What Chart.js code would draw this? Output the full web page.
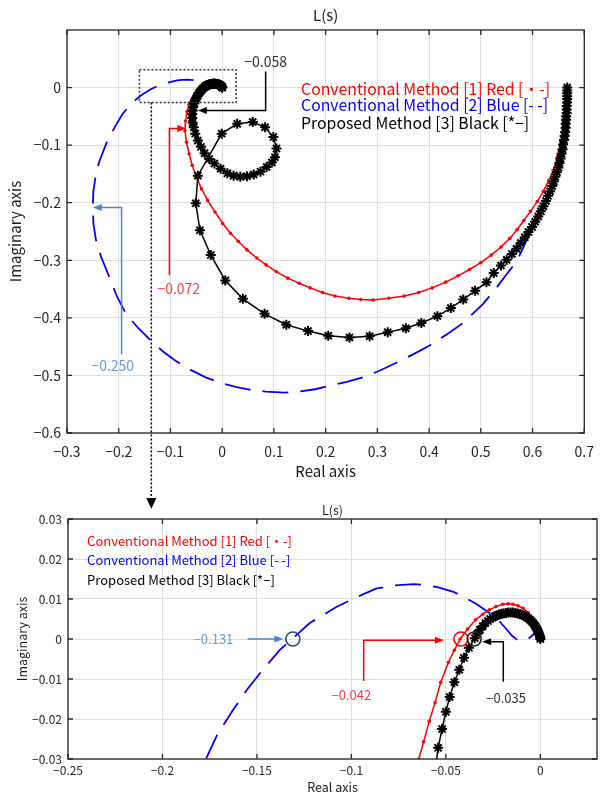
<!DOCTYPE html>
<html lang="ja">
<head>
<meta charset="UTF-8">
<title>L(s)</title>
<script src="https://cdn.jsdelivr.net/npm/chart.js"></script>
<style>
  body { margin: 0; background: #fff; }
  .box1 { position: absolute; left: 0; top: 0; width: 604px; height: 490px; }
  .box2 { position: absolute; left: 0; top: 490px; width: 604px; height: 306px; }
</style>
</head>
<body>
<div class="box1"><canvas id="c1"></canvas></div>
<div class="box2"><canvas id="c2"></canvas></div>
<script>
// axis ticks
const topXTicks = [-0.3, -0.2, -0.1, 0, 0.1, 0.2, 0.3, 0.4, 0.5, 0.6, 0.7];
const topYTicks = [-0.6, -0.5, -0.4, -0.3, -0.2, -0.1, 0];
const botXTicks = [-0.25, -0.2, -0.15, -0.1, -0.05, 0];
const botYTicks = [-0.03, -0.02, -0.01, 0, 0.01, 0.02, 0.03];

const legendNames = ['Conventional Method [1] Red [・-]', 'Conventional Method [2] Blue [- -]', 'Proposed Method [3] Black [*−]'];
const legendColors = ['#ff0000', '#0000ff', '#000000'];

// [1] red  (real, imag)
const redPts = [[0.667,0.000],[0.666,-0.025],[0.664,-0.050],[0.660,-0.075],[0.655,-0.098],[0.648,-0.121],[0.640,-0.144],
  [0.631,-0.162],[0.621,-0.180],[0.609,-0.198],[0.596,-0.215],[0.583,-0.231],[0.570,-0.247],[0.556,-0.262],[0.539,-0.277],
  [0.520,-0.291],[0.500,-0.304],[0.478,-0.316],[0.456,-0.327],[0.432,-0.338],[0.406,-0.348],[0.380,-0.356],[0.352,-0.362],
  [0.322,-0.366],[0.292,-0.369],[0.268,-0.368],[0.245,-0.366],[0.218,-0.362],[0.194,-0.356],[0.170,-0.348],[0.149,-0.340],
  [0.127,-0.331],[0.105,-0.320],[0.085,-0.308],[0.067,-0.296],[0.048,-0.282],[0.031,-0.267],[0.016,-0.253],[0.001,-0.236],
  [-0.014,-0.216],[-0.028,-0.196],[-0.040,-0.176],[-0.050,-0.155],[-0.058,-0.135],[-0.064,-0.115],[-0.069,-0.095],
  [-0.072,-0.075],[-0.071,-0.058],[-0.068,-0.042],[-0.0643,-0.030],[-0.0618,-0.0257],[-0.0588,-0.0206],[-0.0557,-0.0159],
  [-0.0527,-0.0108],[-0.0486,-0.0058],[-0.0455,-0.0028],[-0.0424,0.0000],[-0.0385,0.0025],[-0.0342,0.0048],[-0.0305,0.0062],
  [-0.027,0.0073],[-0.0235,0.0081],[-0.0199,0.0087],[-0.0170,0.0088],[-0.0145,0.0087],[-0.0118,0.0083],[-0.0091,0.0077],
  [-0.0065,0.0066],[-0.0042,0.0052],[-0.0022,0.0035],[-0.0008,0.0018],[0.000,0.000]];

// [2] blue
const bluePts = [[0.667,0.000],[0.666,-0.040],[0.662,-0.080],[0.655,-0.120],[0.643,-0.160],[0.627,-0.197],[0.608,-0.230],
  [0.588,-0.266],[0.570,-0.301],[0.545,-0.330],[0.525,-0.354],[0.504,-0.376],[0.464,-0.410],[0.432,-0.430],[0.401,-0.448],
  [0.370,-0.463],[0.339,-0.477],[0.306,-0.491],[0.274,-0.503],[0.241,-0.511],[0.208,-0.518],[0.180,-0.524],[0.150,-0.528],
  [0.120,-0.530],[0.084,-0.528],[0.055,-0.525],[0.026,-0.520],[-0.003,-0.513],[-0.033,-0.503],[-0.062,-0.490],[-0.091,-0.474],
  [-0.115,-0.458],[-0.135,-0.442],[-0.162,-0.418],[-0.186,-0.393],[-0.204,-0.362],[-0.221,-0.323],[-0.234,-0.294],
  [-0.244,-0.265],[-0.249,-0.236],[-0.250,-0.207],[-0.249,-0.180],[-0.244,-0.150],[-0.237,-0.127],[-0.224,-0.097],
  [-0.206,-0.066],[-0.192,-0.045],[-0.177,-0.030],[-0.171,-0.0239],[-0.163,-0.018],[-0.155,-0.0125],[-0.1465,-0.0075],
  [-0.138,-0.0028],[-0.131,0.0002],[-0.122,0.004],[-0.108,0.008],[-0.097,0.0105],[-0.087,0.0126],[-0.077,0.0134],
  [-0.067,0.0137],[-0.061,0.0135],[-0.055,0.013],[-0.046,0.0118],[-0.040,0.0104],[-0.034,0.0088],[-0.027,0.0065],
  [-0.022,0.0046],[-0.018,0.0025],[-0.015,0.0008],[-0.012,-0.0003],[-0.009,-0.0005],[-0.006,0.0002],[-0.004,0.0010],
  [-0.002,0.0018],[0.000,0.000]];

// [3] black
const blackPts = [[0.667,0.000],[0.667,-0.005],[0.667,-0.010],[0.667,-0.015],[0.667,-0.020],[0.667,-0.026],[0.666,-0.032],
  [0.666,-0.038],[0.666,-0.044],[0.665,-0.050],[0.665,-0.056],[0.664,-0.063],[0.664,-0.070],[0.663,-0.077],[0.662,-0.084],
  [0.661,-0.091],[0.659,-0.099],[0.658,-0.107],[0.656,-0.115],[0.654,-0.123],[0.652,-0.131],[0.650,-0.139],[0.647,-0.147],
  [0.644,-0.155],[0.641,-0.163],[0.638,-0.171],[0.634,-0.180],[0.630,-0.188],[0.626,-0.197],[0.621,-0.206],[0.616,-0.215],
  [0.611,-0.224],[0.605,-0.233],[0.599,-0.242],[0.592,-0.251],[0.585,-0.260],[0.577,-0.270],[0.569,-0.280],[0.560,-0.289],
  [0.550,-0.299],[0.539,-0.309],[0.525,-0.322],[0.511,-0.338],[0.489,-0.353],[0.466,-0.368],[0.442,-0.383],[0.416,-0.397],
  [0.385,-0.409],[0.355,-0.418],[0.320,-0.425],[0.285,-0.432],[0.246,-0.434],[0.205,-0.431],[0.166,-0.423],[0.124,-0.412],
  [0.082,-0.393],[0.040,-0.367],[0.006,-0.335],[-0.022,-0.291],[-0.043,-0.248],[-0.051,-0.201],[-0.047,-0.153],
  [-0.001,-0.080],[0.029,-0.063],[0.059,-0.060],[0.083,-0.069],[0.099,-0.086],[0.105,-0.106],[0.102,-0.121],[0.096,-0.130],
  [0.086,-0.138],[0.074,-0.146],[0.061,-0.151],[0.048,-0.154],[0.035,-0.155],[0.022,-0.153],[0.010,-0.149],[-0.003,-0.141],
  [-0.015,-0.132],[-0.025,-0.124],[-0.034,-0.114],[-0.041,-0.103],[-0.047,-0.092],[-0.052,-0.080],[-0.055,-0.069],
  [-0.057,-0.061],[-0.058,-0.053],[-0.058,-0.046],[-0.057,-0.040],[-0.056,-0.034],[-0.0541,-0.0272],[-0.052,-0.0225],
  [-0.050,-0.0182],[-0.048,-0.0145],[-0.0455,-0.0108],[-0.0429,-0.0077],[-0.0404,-0.0047],[-0.0378,-0.0022],
  [-0.0347,0.0002],[-0.0333,0.0013],[-0.032,0.0023],[-0.0305,0.0032],[-0.029,0.0040],[-0.0277,0.0045],[-0.0265,0.0050],
  [-0.0252,0.0054],[-0.024,0.0057],[-0.0229,0.0059],[-0.0218,0.0061],[-0.0206,0.0063],[-0.0195,0.0064],[-0.0182,0.0065],
  [-0.017,0.0066],[-0.0157,0.0066],[-0.0145,0.0066],[-0.0132,0.0065],[-0.012,0.0064],[-0.0107,0.0062],[-0.0095,0.0060],
  [-0.0084,0.0058],[-0.0074,0.0055],[-0.0064,0.0052],[-0.0055,0.0048],[-0.0046,0.0044],[-0.0038,0.0040],[-0.0031,0.0035],
  [-0.0025,0.0031],[-0.0019,0.0026],[-0.0015,0.0022],[-0.0010,0.0017],[-0.0006,0.0012],[-0.0002,0.0007],[0.000,0.0004],
  [0.000,0.000]];

const FONT = "'Noto Sans CJK JP', 'Noto Sans', sans-serif";
const xy = pts => pts.map(([x, y]) => ({ x: x, y: y }));
const fmt = v => (v === 0 ? '0' : (v < 0 ? '−' : '') + String(Math.abs(v)));
let topChart = null;

function makeDatasets(r) {
  return [
    { label: legendNames[2], data: xy(blackPts), showLine: true, borderColor: '#000', borderWidth: 1.5,
      pointStyle: 'star', pointRadius: r, pointBorderColor: '#000', pointBorderWidth: 2, order: 0, clip: 0 },
    { label: legendNames[0], data: xy(redPts), showLine: true, borderColor: '#ff0000', borderWidth: 1.5,
      pointStyle: 'circle', pointRadius: 1.8, pointBackgroundColor: '#ff0000', pointBorderWidth: 0, order: 1, clip: 0 },
    { label: legendNames[1], data: xy(bluePts), showLine: true, borderColor: '#0000ff', borderWidth: 1.8,
      borderDash: [26, 12], pointRadius: 0, order: 2, clip: 0 }
  ];
}

function text(ctx, s, x, y, size, color, align, rot) {
  ctx.save();
  ctx.font = size + 'px ' + FONT;
  ctx.fillStyle = color;
  ctx.textAlign = align || 'center';
  ctx.textBaseline = 'middle';
  ctx.translate(x, y);
  if (rot) ctx.rotate(rot);
  ctx.fillText(s, 0, 0);
  ctx.restore();
}

function head(ctx, x, y, ang, color, len, w) {
  ctx.save();
  ctx.fillStyle = color;
  ctx.translate(x, y);
  ctx.rotate(ang);
  ctx.beginPath();
  ctx.moveTo(0, 0);
  ctx.lineTo(-len, -w);
  ctx.lineTo(-len, w);
  ctx.closePath();
  ctx.fill();
  ctx.restore();
}

// vertical line at vx from yEnd to yArr, then horizontal to the tip tx with an arrow
function bracket(chart, vx, yEnd, yArr, tx, color) {
  const { ctx, scales: { x, y } } = chart;
  const px = x.getPixelForValue(vx), pt = x.getPixelForValue(tx);
  const py0 = y.getPixelForValue(yEnd), py1 = y.getPixelForValue(yArr);
  ctx.save();
  ctx.strokeStyle = color;
  ctx.lineWidth = 1.5;
  ctx.beginPath();
  ctx.moveTo(px, py0);
  ctx.lineTo(px, py1);
  ctx.lineTo(pt + (pt < px ? 7 : -7), py1);
  ctx.stroke();
  ctx.restore();
  head(ctx, pt, py1, pt < px ? Math.PI : 0, color, 9, 3.5);
}

function frame(chart, xt, yt) {
  const { ctx, chartArea: a, scales: { x, y } } = chart;
  ctx.save();
  ctx.strokeStyle = '#262626';
  ctx.lineWidth = 1.3;
  ctx.beginPath();
  xt.forEach(v => {
    const p = x.getPixelForValue(v);
    ctx.moveTo(p, a.bottom); ctx.lineTo(p, a.bottom - 5);
    ctx.moveTo(p, a.top); ctx.lineTo(p, a.top + 5);
  });
  yt.forEach(v => {
    const p = y.getPixelForValue(v);
    ctx.moveTo(a.left, p); ctx.lineTo(a.left + 5, p);
    ctx.moveTo(a.right, p); ctx.lineTo(a.right - 5, p);
  });
  ctx.stroke();
  ctx.strokeRect(a.left, a.top, a.right - a.left, a.bottom - a.top);
  ctx.restore();
}

const topDecor = {
  id: 'topDecor',
  afterDatasetsDraw(chart) {
    const { ctx, chartArea: a, scales: { x, y } } = chart;
    frame(chart, topXTicks, topYTicks);
    const cx = (a.left + a.right) / 2;
    text(ctx, 'L(s)', cx, 15, 15, '#1a1a1a');
    text(ctx, 'Real axis', cx, 471, 15, '#1a1a1a');
    text(ctx, 'Imaginary axis', 15, (a.top + a.bottom) / 2, 15, '#1a1a1a', 'center', -Math.PI / 2);

    // legend text
    const ly = [-0.002, -0.031, -0.061];
    legendNames.forEach((s, i) => text(ctx, s, x.getPixelForValue(0.1525), y.getPixelForValue(ly[i]), 15.8, legendColors[i], 'left'));

    // zoom box and connector
    ctx.save();
    ctx.strokeStyle = '#1e3550';
    ctx.lineWidth = 1.5;
    ctx.setLineDash([2, 2]);
    const rx0 = x.getPixelForValue(-0.16), rx1 = x.getPixelForValue(0.027);
    const ry0 = y.getPixelForValue(0.031), ry1 = y.getPixelForValue(-0.026);
    ctx.strokeRect(rx0, ry0, rx1 - rx0, ry1 - ry0);
    ctx.strokeStyle = '#000';
    ctx.beginPath();
    const lx = x.getPixelForValue(-0.137);
    ctx.moveTo(lx, ry1);
    ctx.lineTo(lx, chart.height);
    ctx.stroke();
    ctx.restore();

    // -0.058
    bracket(chart, 0.084, 0.028, -0.040, -0.047, '#000');
    text(ctx, '−0.058', x.getPixelForValue(0.084), y.getPixelForValue(0.045), 14, '#333');
    // -0.072
    bracket(chart, -0.102, -0.326, -0.071, -0.0694, '#ff0000');
    text(ctx, '−0.072', x.getPixelForValue(-0.084), y.getPixelForValue(-0.350), 14, '#ff4040');
    // -0.250
    bracket(chart, -0.1945, -0.463, -0.2085, -0.250, '#4a86c8');
    text(ctx, '−0.250', x.getPixelForValue(-0.2116), y.getPixelForValue(-0.4835), 14, '#6b9bd1');
  }
};

function circ(chart, vx, vy, color) {
  const { ctx, scales: { x, y } } = chart;
  ctx.save();
  ctx.strokeStyle = color;
  ctx.lineWidth = 1.6;
  ctx.beginPath();
  ctx.arc(x.getPixelForValue(vx), y.getPixelForValue(vy), 7, 0, Math.PI * 2);
  ctx.stroke();
  ctx.restore();
}

const botDecor = {
  id: 'botDecor',
  afterDatasetsDraw(chart) {
    const { ctx, chartArea: a, scales: { x, y } } = chart;
    frame(chart, botXTicks, botYTicks);
    const cx = (a.left + a.right) / 2;
    text(ctx, 'L(s)', cx, 20, 12.5, '#1a1a1a');
    text(ctx, 'Real axis', cx, 297, 12.5, '#1a1a1a');
    text(ctx, 'Imaginary axis', 22, (a.top + a.bottom) / 2, 12.5, '#1a1a1a', 'center', -Math.PI / 2);

    const ly = [0.0245, 0.0198, 0.0148];
    legendNames.forEach((s, i) => text(ctx, s, x.getPixelForValue(-0.2399), y.getPixelForValue(ly[i]), 13, legendColors[i], 'left'));

    // connector arrow from the top chart
    const lx = topChart ? topChart.scales.x.getPixelForValue(-0.137) : 154;
    ctx.save();
    ctx.strokeStyle = '#000';
    ctx.lineWidth = 1.5;
    ctx.setLineDash([2, 2]);
    ctx.beginPath();
    ctx.moveTo(lx, 0);
    ctx.lineTo(lx, 10);
    ctx.stroke();
    ctx.restore();
    head(ctx, lx, 19, Math.PI / 2, '#000', 11, 5);

    // circles
    circ(chart, -0.131, 0, '#1f4e79');
    circ(chart, -0.042, 0, '#ff0000');
    circ(chart, -0.035, 0, '#222');

    // -0.131
    const py = y.getPixelForValue(0);
    ctx.save();
    ctx.strokeStyle = '#4a86c8';
    ctx.lineWidth = 1.5;
    ctx.beginPath();
    ctx.moveTo(x.getPixelForValue(-0.155), py);
    ctx.lineTo(x.getPixelForValue(-0.136) - 7, py);
    ctx.stroke();
    ctx.restore();
    head(ctx, x.getPixelForValue(-0.136), py, 0, '#4a86c8', 9, 3.5);
    text(ctx, '−0.131', x.getPixelForValue(-0.173), py, 13, '#6b9bd1');
    // -0.042
    bracket(chart, -0.0935, -0.0105, -0.0003, -0.051, '#ff0000');
    text(ctx, '−0.042', x.getPixelForValue(-0.1000), y.getPixelForValue(-0.0140), 13, '#ff4040');
    // -0.035
    bracket(chart, -0.0196, -0.0107, -0.0007, -0.0308, '#000');
    text(ctx, '−0.035', x.getPixelForValue(-0.0181), y.getPixelForValue(-0.0148), 13, '#333');
  }
};

function axis(min, max, ticks, fontSize, pad, fit) {
  return {
    type: 'linear', min: min, max: max,
    afterBuildTicks: s => { s.ticks = ticks.map(v => ({ value: v })); },
    afterFit: fit,
    grid: { color: '#dedede', lineWidth: 1, drawTicks: false },
    border: { display: false },
    ticks: { font: { family: FONT, size: fontSize }, color: '#262626', padding: pad, callback: v => fmt(v) }
  };
}

function baseOptions(pad) {
  return {
    responsive: true, maintainAspectRatio: false, animation: false,
    layout: { padding: pad },
    plugins: { legend: { display: false }, tooltip: { enabled: false } }
  };
}

window.onload = function () {
  const o1 = baseOptions({ top: 30, right: 11, left: 0, bottom: 0 });
  o1.scales = {
    x: axis(-0.3, 0.7, topXTicks, 14, 10, s => { s.height = 57; }),
    y: axis(-0.6, 0.1, topYTicks, 14, 6, s => { s.width = 67; })
  };
  topChart = new Chart(document.getElementById('c1'), {
    type: 'scatter', data: { datasets: makeDatasets(5) }, options: o1, plugins: [topDecor]
  });

  const o2 = baseOptions({ top: 29, right: 7, left: 0, bottom: 0 });
  o2.scales = {
    x: axis(-0.25, 0.03, botXTicks, 12, 4, s => { s.height = 37; }),
    y: axis(-0.03, 0.03, botYTicks, 12, 6, s => { s.width = 68; })
  };
  new Chart(document.getElementById('c2'), {
    type: 'scatter', data: { datasets: makeDatasets(5) }, options: o2, plugins: [botDecor]
  });
};
</script>
</body>
</html>
